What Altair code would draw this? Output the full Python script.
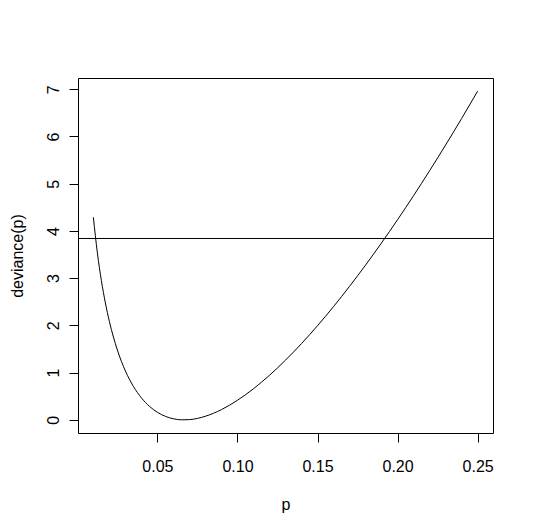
import altair as alt
import pandas as pd

# values
p_vals = [0.01, 0.0125, 0.015, 0.0175, 0.02, 0.025, 0.03, 0.035, 0.04, 0.045,
          0.05, 0.055, 0.06, 0.065, 0.07, 0.075, 0.08, 0.085, 0.09, 0.10,
          0.11, 0.12, 0.13, 0.14, 0.15, 0.16, 0.17, 0.18, 0.19, 0.20,
          0.21, 0.22, 0.23, 0.24, 0.25]
dev_vals = [4.288, 3.537, 2.949, 2.475, 2.084, 1.478, 1.036, 0.709, 0.466, 0.287,
            0.160, 0.074, 0.023, 0.001, 0.005, 0.031, 0.077, 0.139, 0.217, 0.415,
            0.659, 0.944, 1.264, 1.615, 1.994, 2.398, 2.827, 3.277, 3.748, 4.238,
            4.747, 5.275, 5.819, 6.381, 6.960]
hline_val = [3.84]
x_ticks = [0.05, 0.10, 0.15, 0.20, 0.25]
y_ticks = [0, 1, 2, 3, 4, 5, 6, 7]

curve_df = pd.DataFrame({"p": p_vals, "dev": dev_vals})
hline_df = pd.DataFrame({"y": hline_val})

FONT = "Liberation Sans"

x_scale = alt.Scale(domain=[0.0004, 0.2596], nice=False, zero=False)
y_scale = alt.Scale(domain=[-0.278, 7.238], nice=False, zero=False)

x_axis = alt.Axis(values=x_ticks, format=".2f", title="p", grid=False, domain=False,
                  tickSize=9, tickColor="black", labelPadding=16, labelFontSize=16,
                  labelFont=FONT, labelColor="black", titleFont=FONT, titleFontSize=16,
                  titleFontWeight="normal", titleColor="black", titlePadding=22)
y_axis = alt.Axis(values=y_ticks, format="d", title="deviance(p)", grid=False, domain=False,
                  tickSize=9, tickColor="black", labelPadding=8, labelFontSize=16,
                  labelAngle=-90, labelFont=FONT, labelColor="black",
                  titleFont=FONT, titleFontSize=16, titleFontWeight="normal",
                  titleColor="black", titlePadding=20)

curve = alt.Chart(curve_df).mark_line(color="black", strokeWidth=1, interpolate="monotone").encode(
    x=alt.X("p:Q", scale=x_scale, axis=x_axis),
    y=alt.Y("dev:Q", scale=y_scale, axis=y_axis),
)

hline = alt.Chart(hline_df).mark_rule(color="black", strokeWidth=1).encode(
    y=alt.Y("y:Q", scale=y_scale),
)

chart = alt.layer(curve, hline).properties(
    width=415, height=355,
    autosize=alt.AutoSizeParams(type="none"),
    padding={"left": 70, "top": 70, "right": 20, "bottom": 80},
    background="white",
).configure_view(stroke="black", strokeWidth=1)

chart.save("out.html", embed_options={"renderer": "svg", "actions": False})
